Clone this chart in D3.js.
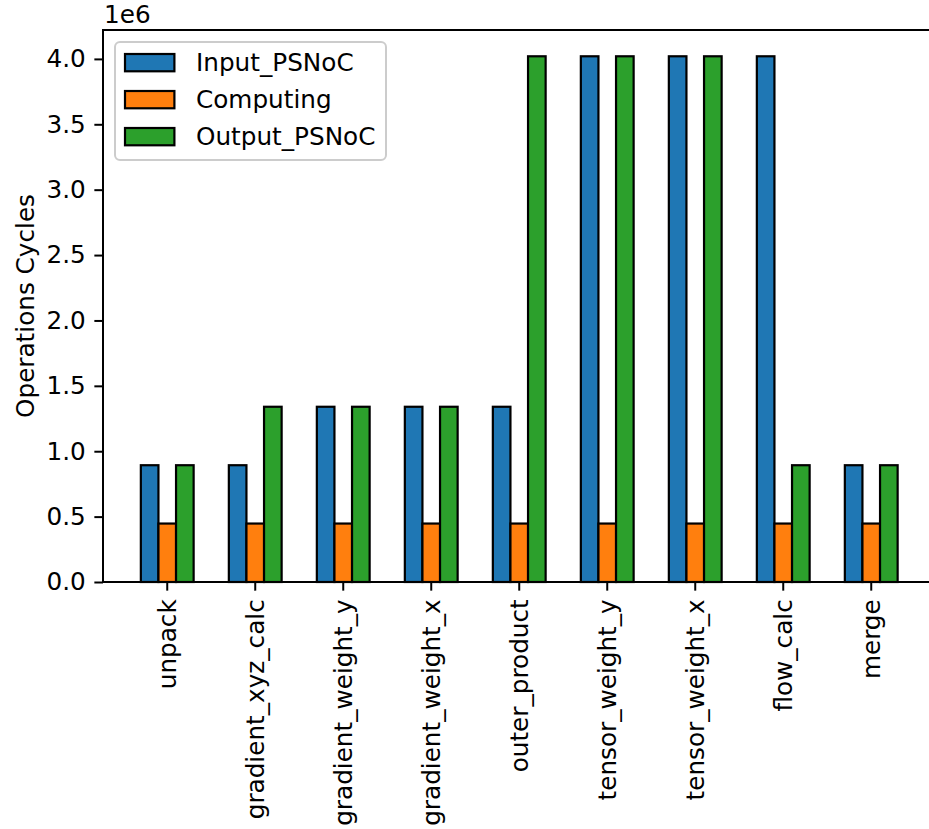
<!DOCTYPE html>
<html>
<head>
<meta charset="utf-8">
<script src="https://cdn.jsdelivr.net/npm/d3@7"></script>
<style>
  html, body { margin: 0; padding: 0; background: #fff; }
  svg { display: block; font-family: "DejaVu Sans", sans-serif; }
</style>
</head>
<body>
<svg id="chart" width="929" height="829"></svg>
<script>
// Stage names along the x axis
const categories = ["unpack", "gradient_xyz_calc", "gradient_weight_y", "gradient_weight_x",
  "outer_product", "tensor_weight_y", "tensor_weight_x", "flow_calc", "merge"];

// Cycle counts per stage for each phase
const inputPSNoC  = [0.893e6, 0.893e6, 1.34e6, 1.34e6, 1.34e6, 4.02e6, 4.02e6, 4.02e6, 0.893e6];
const computing   = [0.447e6, 0.447e6, 0.447e6, 0.447e6, 0.447e6, 0.447e6, 0.447e6, 0.447e6, 0.447e6];
const outputPSNoC = [0.893e6, 1.34e6, 1.34e6, 1.34e6, 4.02e6, 4.02e6, 4.02e6, 0.893e6, 0.893e6];

const seriesNames = ["Input_PSNoC", "Computing", "Output_PSNoC"];
const seriesColors = ["#1f77b4", "#ff7f0e", "#2ca02c"];
const yTicks = [0, 0.5e6, 1.0e6, 1.5e6, 2.0e6, 2.5e6, 3.0e6, 3.5e6, 4.0e6];

const series = [inputPSNoC, computing, outputPSNoC];

const FS = 24.7;          // text size in px
const PT = FS / 10;       // one point in px
const svg = d3.select("#chart");
const plotLeft = 103, plotTop = 30, plotBottom = 582;
const barW = 0.2;

const n = categories.length;
const span = (n - 1) + 0.6;
const xMin = -0.3 - 0.05 * span, xMax = (n - 1) + 0.3 + 0.05 * span;
// x is in index units; one unit is ~88px, so the axis runs past the right edge
const unit = 88;
const x = d3.scaleLinear().domain([xMin, xMax]).range([plotLeft, plotLeft + (xMax - xMin) * unit]);

const yMax = d3.max(series.flat()) * 1.05;
const y = d3.scaleLinear().domain([0, yMax]).range([plotBottom, plotTop]);

// Bars
series.forEach((vals, si) => {
  svg.append("g").selectAll("rect")
    .data(vals)
    .join("rect")
    .attr("x", (d, i) => x(i + (si - 1) * barW - barW / 2))
    .attr("width", x(barW) - x(0))
    .attr("y", d => y(d))
    .attr("height", d => y(0) - y(d))
    .attr("fill", seriesColors[si])
    .attr("stroke", "#000")
    .attr("stroke-width", 2.2);
});

// Y axis
const yAxis = d3.axisLeft(y).tickValues(yTicks)
  .tickFormat(d => (d / 1e6).toFixed(1)).tickSizeOuter(0).tickSize(3.5 * PT).tickPadding(3.5 * PT);
const gy = svg.append("g").attr("transform", `translate(${plotLeft},0)`).call(yAxis);
gy.select(".domain").remove();
gy.selectAll("line").attr("stroke", "#000").attr("stroke-width", 2);
gy.selectAll("text").attr("font-size", FS).attr("fill", "#000")
  .attr("font-family", "DejaVu Sans, sans-serif");

// X axis
const gx = svg.append("g").attr("transform", `translate(0,${plotBottom})`);
gx.selectAll("line").data(categories).join("line")
  .attr("x1", (d, i) => x(i)).attr("x2", (d, i) => x(i))
  .attr("y1", 0).attr("y2", 3.5 * PT)
  .attr("stroke", "#000").attr("stroke-width", 2);
gx.selectAll("text").data(categories).join("text")
  .attr("transform", (d, i) => `translate(${x(i) + 0.35 * FS},${7 * PT}) rotate(-90)`)
  .attr("text-anchor", "end")
  .attr("font-size", FS)
  .attr("fill", "#000")
  .text(d => d);

// Spines (left, bottom, top)
const plotRight = 929 + 10;
svg.append("line").attr("x1", plotLeft).attr("x2", plotLeft).attr("y1", plotTop).attr("y2", plotBottom)
  .attr("stroke", "#000").attr("stroke-width", 2).attr("stroke-linecap", "square");
svg.append("line").attr("x1", plotLeft).attr("x2", plotRight).attr("y1", plotBottom).attr("y2", plotBottom)
  .attr("stroke", "#000").attr("stroke-width", 2).attr("stroke-linecap", "square");
svg.append("line").attr("x1", plotLeft).attr("x2", plotRight).attr("y1", plotTop).attr("y2", plotTop)
  .attr("stroke", "#000").attr("stroke-width", 2).attr("stroke-linecap", "square");

// Offset text and axis label
svg.append("text").attr("x", plotLeft + 1).attr("y", 22.5).attr("font-size", FS).attr("fill", "#000").text("1e6");
svg.append("text")
  .attr("transform", `translate(34,${(plotTop + plotBottom) / 2}) rotate(-90)`)
  .attr("text-anchor", "middle").attr("font-size", FS).attr("fill", "#000")
  .text("Operations Cycles");

// Legend
const lg = svg.append("g");
lg.append("rect").attr("x", 115).attr("y", 42).attr("width", 271).attr("height", 118)
  .attr("rx", 5).attr("fill", "#fff").attr("fill-opacity", 0.8)
  .attr("stroke", "#cccccc").attr("stroke-width", 2);
seriesNames.forEach((name, i) => {
  const yy = 54 + i * 37;
  lg.append("rect").attr("x", 125).attr("y", yy).attr("width", 2 * FS).attr("height", 0.7 * FS)
    .attr("fill", seriesColors[i]).attr("stroke", "#000").attr("stroke-width", 2.2);
  lg.append("text").attr("x", 196).attr("y", yy + 0.35 * FS + 0.35 * FS).attr("font-size", FS)
    .attr("fill", "#000").text(name);
});
</script>
</body>
</html>
